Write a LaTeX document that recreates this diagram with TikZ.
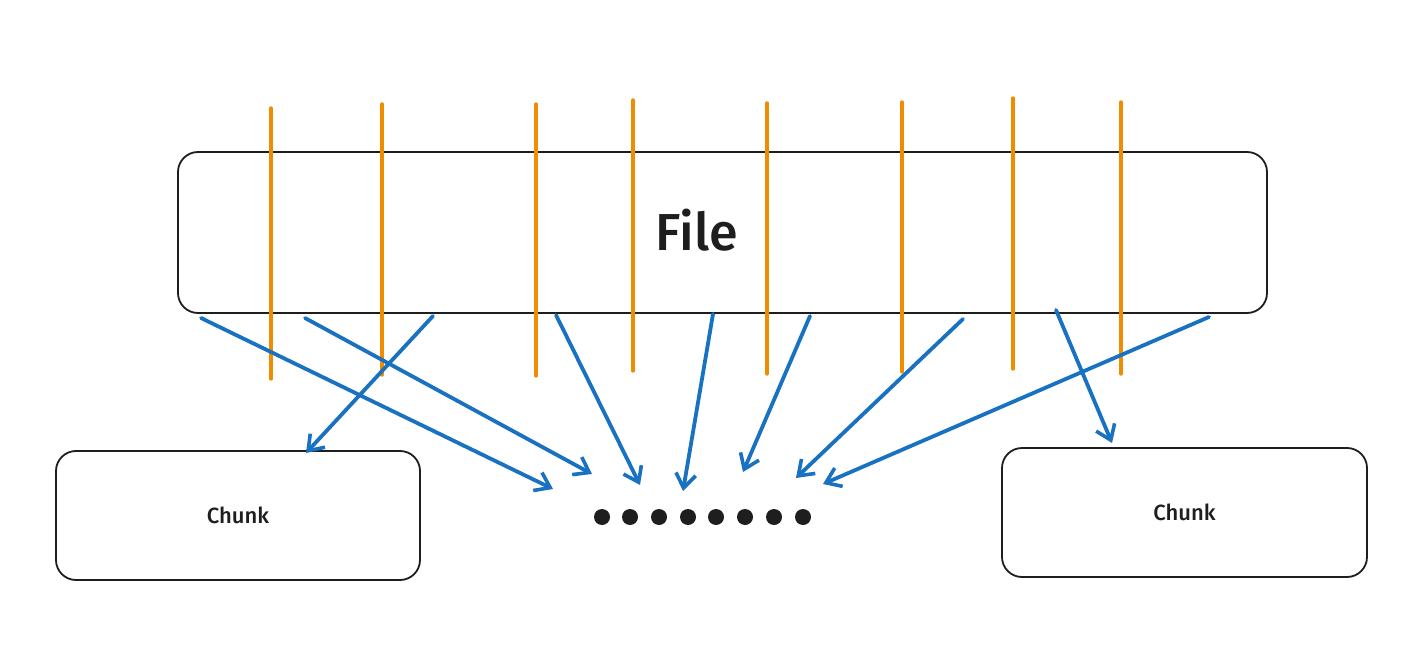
\documentclass[tikz,border=0pt]{standalone}
\usepackage{fontspec}
\setmainfont{Fira Sans}[BoldFont={Fira Sans Medium}]
\usetikzlibrary{arrows.meta}
\definecolor{ink}{HTML}{1E1E1E}
\definecolor{cut}{HTML}{F08C00}
\definecolor{flow}{HTML}{1971C2}
\tikzset{
  box/.style={draw=ink, line width=1.8pt, rounded corners=20pt, inner sep=0pt, fill=white},
  cutline/.style={draw=cut, line width=3.4pt, line cap=round},
  flowarrow/.style={draw=flow, line width=3.8pt, line cap=round, -{Straight Barb[length=14pt,width=20pt,line width=3.6pt]}},
  dot/.style={circle, fill=ink, inner sep=0pt, minimum size=16pt},
  lbl/.style={text=ink, font=\bfseries},
}
\begin{document}
\begin{tikzpicture}[x=1pt,y=-1pt]
\useasboundingbox (0,0) rectangle (1411,655);
% boxes
\node[box, minimum width=1089pt, minimum height=161pt] (file) at (722.5,232.5) {};
\node[lbl, font=\bfseries\fontsize{52}{58}\selectfont] (filelabel) at (697,230) {File};
\node[box, minimum width=364pt, minimum height=129pt] (chunkL) at (238,515.5) {};
\node[lbl, font=\bfseries\fontsize{22}{26}\selectfont] at (chunkL.center) {Chunk};
\node[box, minimum width=365pt, minimum height=129pt] (chunkR) at (1184.5,512.5) {};
\node[lbl, font=\bfseries\fontsize{22}{26}\selectfont] at (chunkR.center) {Chunk};
% dots
\foreach \i/\x in {1/602,2/630,3/659,4/688,5/716,6/745,7/774,8/803}
  \node[dot] (d\i) at (\x,517) {};
% orange cut lines
\foreach \x/\a/\b in {271/108/379, 382/104/375, 536/104/376, 633/100/371, 767/103/374, 902/102/372, 1013/98/369, 1121/102/374}
  \draw[cutline] (\x,\a) -- (\x,\b);
% arrow coordinates
\coordinate (s1) at (201,318); \coordinate (e1) at (553,489);
\coordinate (s2) at (305,318); \coordinate (e2) at (592,474);
\coordinate (s3) at (433,316); \coordinate (e3) at (306,453);
\coordinate (s4) at (556,315); \coordinate (e4) at (640,485);
\coordinate (s5) at (713,314); \coordinate (e5) at (683,491);
\coordinate (s6) at (810,316); \coordinate (e6) at (743,472);
\coordinate (s7) at (963,319); \coordinate (e7) at (796,478);
\coordinate (s8) at (1056,310); \coordinate (e8) at (1112,443);
\coordinate (s9) at (1209,317); \coordinate (e9) at (823,484);
\foreach \i in {1,...,9}
  \draw[flowarrow] (s\i) -- (e\i);
\end{tikzpicture}
\end{document}
